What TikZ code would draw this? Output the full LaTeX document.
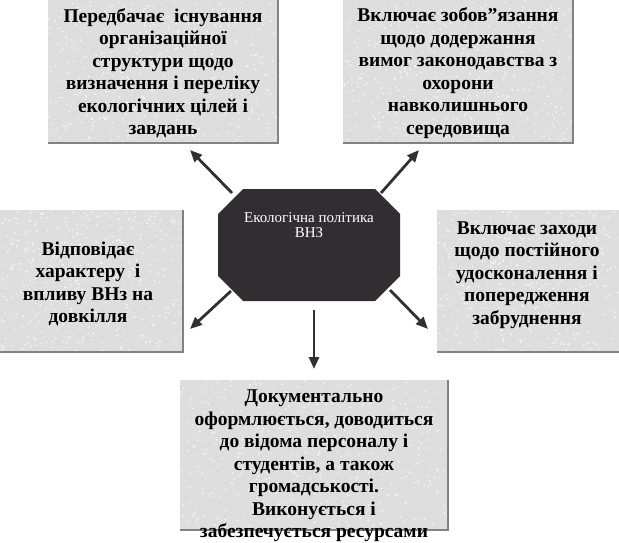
\documentclass[tikz,border=0pt]{standalone}
\usepackage{fontspec}
\setmainfont{Liberation Serif}
\usetikzlibrary{arrows.meta}
\definecolor{boxfill}{RGB}{222,222,222}
\definecolor{octfill}{RGB}{50,45,48}
\definecolor{arrc}{RGB}{51,48,50}
\definecolor{shadowc}{RGB}{130,130,130}
\newcommand\mySpeckle[4]{%
  \foreach \k in {1,...,420}{%
    \pgfmathsetmacro\px{#1+rnd*#3}\pgfmathsetmacro\py{#2+rnd*#4}%
    \fill[white,opacity=0.8] (\px,\py) circle (0.9pt);}%
  \foreach \k in {1,...,160}{%
    \pgfmathsetmacro\px{#1+rnd*#3}\pgfmathsetmacro\py{#2+rnd*#4}%
    \fill[gray!45,opacity=0.5] (\px,\py) circle (0.7pt);}%
}
\begin{document}
\begin{tikzpicture}[x=1pt,y=-1pt,
  boxst/.style={rectangle, fill=boxfill, inner sep=0pt, outer sep=0pt},
  txt/.style={align=center, font=\fontsize{19.5}{22.5}\selectfont\bfseries, inner sep=0pt},
  octtxt/.style={align=center, text=white, font=\fontsize{15}{15.5}\selectfont, inner sep=0pt},
  arrst/.style={draw=arrc, line width=2.8pt, -{Triangle[length=12pt,width=10pt]}},
  shad/.style={draw=shadowc, line width=1.2pt}]
\pgfmathsetseed{7}
\useasboundingbox (0,0) rectangle (619,543);
\fill[white] (0,0) rectangle (619,543);

% boxes
\node[boxst, minimum width=230pt, minimum height=143pt] (tl) at (163,71.5) {};
\node[boxst, minimum width=230pt, minimum height=143pt] (tr) at (458,71.5) {};
\node[boxst, minimum width=183pt, minimum height=142pt] (lb) at (91.5,281) {};
\node[boxst, minimum width=182pt, minimum height=142pt] (rb) at (528,281) {};
\node[boxst, minimum width=268pt, minimum height=150pt] (bb) at (314,455) {};

% texture
\mySpeckle{49}{1}{228}{141}
\mySpeckle{344}{1}{228}{141}
\mySpeckle{1}{211}{181}{140}
\mySpeckle{438}{211}{180}{140}
\mySpeckle{181}{381}{266}{148}

% shadows
\draw[shad] (tl.north east) -- (tl.south east) -- (tl.south west);
\draw[shad] (tr.north east) -- (tr.south east) -- (tr.south west);
\draw[shad] (lb.north east) -- (lb.south east) -- (lb.south west);
\draw[shad] (rb.south east) -- (rb.south west);
\draw[shad] (bb.north east) -- (bb.south east) -- (bb.south west);

% box texts
\node[txt] (tltxt) at (163,73) {Передбачає \ існування\\організаційної\\структури щодо\\визначення і переліку\\екологічних цілей і\\завдань};
\node[txt] (trtxt) at (458,73) {Включає зобов”язання\\щодо додержання\\вимог законодавства з\\охорони\\навколишнього\\середовища};
\node[txt] (lbtxt) at (88,284) {Відповідає\\характеру \ і\\впливу ВНз на\\довкілля};
\node[txt] (rbtxt) at (527,275) {Включає заходи\\щодо постійного\\удосконалення і\\попередження\\забруднення};
\node[txt] (bbtxt) at (314,466) {Документально\\оформлюється, доводиться\\до відома персоналу і\\студентів, а також\\громадськості.\\Виконується і\\забезпечується ресурсами};

% central octagon
\node[minimum width=182pt, minimum height=112pt, inner sep=0pt, outer sep=0pt] (oct) at (309,245) {};
\fill[octfill] ([xshift=25pt]oct.north west) -- ([xshift=-25pt]oct.north east)
  -- ([yshift=-25pt]oct.north east) -- ([yshift=25pt]oct.south east)
  -- ([xshift=-25pt]oct.south east) -- ([xshift=25pt]oct.south west)
  -- ([yshift=25pt]oct.south west) -- ([yshift=-25pt]oct.north west) -- cycle;
\node[octtxt] (octlabel) at (309,225) {Екологічна політика\\ВНЗ};

% arrow end points
\coordinate (a1s) at (232,193); \coordinate (a1e) at (190,150);
\coordinate (a2s) at (381,193); \coordinate (a2e) at (419,150);
\coordinate (a3s) at (231,291); \coordinate (a3e) at (190,329);
\coordinate (a4s) at (390,290); \coordinate (a4e) at (428,329);
\coordinate (a5s) at (314,310); \coordinate (a5e) at (314,369);

\draw[arrst] (a1s) -- (a1e);
\draw[arrst] (a2s) -- (a2e);
\draw[arrst] (a3s) -- (a3e);
\draw[arrst] (a4s) -- (a4e);
\draw[arrst] (a5s) -- (a5e);
\end{tikzpicture}
\end{document}
